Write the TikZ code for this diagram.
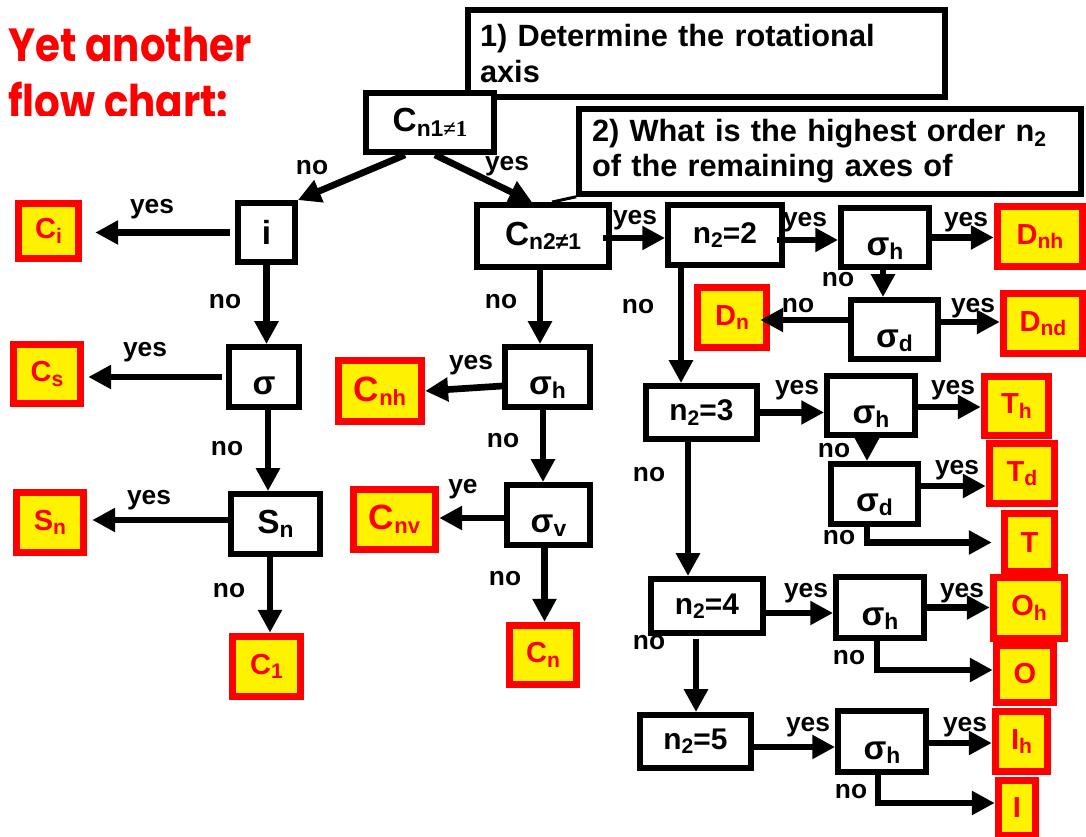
\documentclass[tikz,border=0pt]{standalone}
\usepackage{fontspec}
\setmainfont{Liberation Sans}
\newfontfamily\titlefont{Poppins}
\newfontfamily\eqserif{Liberation Serif}
\usetikzlibrary{arrows.meta,calc}
\newcommand{\lowidx}[2][12]{\raisebox{-2.5pt}{\fontsize{#1}{#1}\selectfont #2}}
\newcommand{\bigsym}[2][19]{{\fontsize{#1}{#1}\selectfont #2}}

\begin{document}
\begin{tikzpicture}[x=0.02cm, y=-0.02cm,
	qbox/.style={draw=black, line width=3.6pt, fill=white, inner sep=0pt, font=\fontsize{17}{17}\selectfont\bfseries},
	abox/.style={draw=red, line width=4pt, fill=yellow, text=red, inner sep=0pt, font=\fontsize{16.5}{16.5}\selectfont\bfseries},
	infobox/.style={draw=black, line width=3.4pt, fill=white, inner sep=0pt, align=left, font=\fontsize{17.5}{20}\selectfont\bfseries},
	dims/.style 2 args={minimum width={(#1-6.5)*0.02cm}, minimum height={(#2-6.5)*0.02cm}},
	lowtxt/.style={text height=23pt, text depth=3pt},
	lbl/.style={inner sep=0pt, font=\fontsize{15}{15}\selectfont\bfseries},
	flow/.style={line width=3.8pt, -{Triangle[length=13pt,width=13pt]}},
	ttl/.style={anchor=base west, inner sep=0pt, text=red, font=\titlefont\fontsize{23}{23}\selectfont\bfseries}]
	\useasboundingbox (0,0) rectangle (1086,837);
	% title
	\begin{scope}
		\clip (0,0) rectangle (300,116);
		\node[ttl] (ttlA) at (8,62) {\scalebox{1}[1.15]{Yet another}};
		\node[ttl] (ttlB) at (8,119) {\scalebox{1}[1.15]{flow chart:}};
	\end{scope}
	% questions
	\node[infobox, dims={483}{93}, text width=9.06cm] (stepA) at (706.5,53.5) {1) Determine the rotational\\axis};
	\node[infobox, dims={508}{91}, text width=9.52cm] (stepB) at (830,151.5) {2) What is the highest order n\lowidx{2}\\of the remaining axes of};
	% left branch
	\node[qbox, dims={134}{65}] (cnA) at (430,122.5) {\bigsym{C}\lowidx[13]{n1{\eqserif ≠1}}\hspace{0.5cm}};
	\node[qbox, dims={63}{65}] (iq) at (266.5,232.5) {\bigsym{i}\hspace{0.4cm}};
	\node[qbox, dims={76}{66}, lowtxt] (sg) at (264,377) {\bigsym{σ}\hspace{0.38cm}};
	\node[qbox, dims={95}{66}] (sn) at (275.5,524) {\bigsym{S}\lowidx[13]{n}\hspace{0.42cm}};
	\node[abox, dims={67}{62}] (ci) at (48.5,231) {C\lowidx{i}};
	\node[abox, dims={74}{66}] (cs) at (47,374) {C\lowidx{s}};
	\node[abox, dims={74}{67}] (snr) at (50,522.5) {S\lowidx{n}};
	\node[abox, dims={75}{67}] (c1) at (266.5,666.5) {C\lowidx{1}};
	% middle branch
	\node[qbox, dims={138}{68}] (cnB) at (543,236) {\bigsym{C}\lowidx[13]{n2≠1}\hspace{0.46cm}};
	\node[qbox, dims={91}{66}, lowtxt] (sgh) at (547.5,377) {\bigsym{σ}\lowidx[13]{h}\hspace{0.38cm}};
	\node[qbox, dims={89}{66}, lowtxt] (sgv) at (548.5,515) {\bigsym{σ}\lowidx[13]{v}\hspace{0.38cm}};
	\node[abox, dims={90}{67}] (cnh) at (380,391) {\bigsym[20]{C}\lowidx[12.5]{nh}};
	\node[abox, dims={89}{67}] (cnv) at (394.5,519.5) {\bigsym[20]{C}\lowidx[12.5]{nv}};
	\node[abox, dims={74}{66}] (cn) at (543,655) {C\lowidx{n}};
	% right branch
	\node[qbox, dims={120}{66}] (nt2) at (725,235) {n\lowidx{2}=2\hspace{0.4cm}};
	\node[qbox, dims={94}{65}, lowtxt] (hA) at (885,237.5) {\bigsym{σ}\lowidx[13]{h}\hspace{0.4cm}};
	\node[qbox, dims={93}{65}, lowtxt] (dA) at (894.5,329.5) {\bigsym{σ}\lowidx[13]{d}\hspace{0.4cm}};
	\node[qbox, dims={117}{59}] (nt3) at (701.5,412.5) {n\lowidx{2}=3\hspace{0.3cm}};
	\node[qbox, dims={94}{65}, lowtxt] (hB) at (871,405.5) {\bigsym{σ}\lowidx[13]{h}\hspace{0.4cm}};
	\node[qbox, dims={93}{66}, lowtxt] (dB) at (874.5,494) {\bigsym{σ}\lowidx[13]{d}\hspace{0.4cm}};
	\node[qbox, dims={118}{60}] (nt4) at (707,606) {n\lowidx{2}=4\hspace{0.3cm}};
	\node[qbox, dims={94}{67}, lowtxt] (hC) at (880,607.5) {\bigsym{σ}\lowidx[13]{h}\hspace{0.4cm}};
	\node[qbox, dims={117}{59}] (nt5) at (695.5,741.5) {n\lowidx{2}=5\hspace{0.3cm}};
	\node[qbox, dims={94}{67}, lowtxt] (hD) at (882,741.5) {\bigsym{σ}\lowidx[13]{h}\hspace{0.4cm}};
	\node[abox, dims={92}{67}] (dnh) at (1040,236.5) {D\lowidx{nh}};
	\node[abox, dims={76}{67}] (dn) at (732,317.5) {D\lowidx{n}};
	\node[abox, dims={86}{67}] (dnd) at (1043,323.5) {D\lowidx{nd}};
	\node[abox, dims={71}{66}] (th) at (1016.5,406) {T\lowidx{h}};
	\node[abox, dims={72}{67}] (td) at (1022,473.5) {T\lowidx{d}};
	\node[abox, dims={57}{65}] (tt) at (1029.5,542.5) {T};
	\node[abox, dims={78}{68}] (oh) at (1029,608) {O\lowidx{h}};
	\node[abox, dims={64}{64}] (oo) at (1025,674) {O};
	\node[abox, dims={59}{67}] (ih) at (1021.5,741.5) {I\lowidx{h}};
	\node[abox, dims={44}{62}] (ii) at (1017,808) {I};
	% connectors
	\draw[flow] ([xshift=-0.5cm]cnA.south) -- (iq.north east);
	\draw[flow] ([xshift=0.1cm]cnA.south) -- ([xshift=-0.22cm]cnB.north);
	\draw[flow, shorten <=0.1cm, shorten >=0.26cm] (iq.west) -- (iq.west -| ci.east);
	\draw[flow] (iq.south) -- (iq.south |- sg.north);
	\draw[flow, shorten <=0.08cm, shorten >=0.08cm] (sg.west) -- (sg.west -| cs.east);
	\draw[flow] ([xshift=0.08cm]sg.south) -- ([xshift=0.08cm]sg.south |- sn.north);
	\draw[flow, shorten >=0.1cm] ([yshift=0.08cm]sn.west) -- ([yshift=0.08cm]sn.west -| snr.east);
	\draw[flow] ([xshift=-0.11cm]sn.south) -- ([xshift=-0.11cm]sn.south |- c1.north);
	\draw[flow] ([xshift=-0.06cm]cnB.south) -- ([xshift=-0.06cm]cnB.south |- sgh.north);
	\draw[flow] ([yshift=-0.18cm]sgh.west) -- (cnh.east);
	\draw[flow] ([xshift=-0.09cm]sgh.south) -- ([xshift=-0.09cm]sgh.south |- sgv.north);
	\draw[flow] ([yshift=-0.06cm]sgv.west) -- ([yshift=-0.06cm]sgv.west -| cnv.east);
	\draw[flow] ([xshift=-0.08cm]sgv.south) -- ([xshift=-0.08cm]sgv.south |- cn.north);
	\draw[flow] ([xshift=-0.18cm,yshift=-0.04cm]cnB.east) -- ([yshift=-0.04cm]cnB.east -| nt2.west);
	\draw[flow] ([xshift=-0.16cm,yshift=-0.1cm]nt2.east) -- ([yshift=-0.1cm]nt2.east -| hA.west);
	\draw[flow] (hA.east) -- (hA.east -| dnh.west);
	\draw[flow] ([xshift=-0.04cm]hA.south) -- ([xshift=-0.04cm]hA.south |- dA.north);
	\draw[flow, shorten <=-0.1cm, shorten >=-0.2cm] ([yshift=0.19cm]dA.west) -- ([yshift=0.19cm]dA.west -| dn.east);
	\draw[flow] ([yshift=0.15cm]dA.east) -- ([yshift=0.15cm]dA.east -| dnd.west);
	\draw[flow] ([xshift=-0.88cm]nt2.south) -- ([xshift=-0.88cm]nt2.south |- nt3.north);
	\draw[flow] (nt3.east) -- (nt3.east -| hB.west);
	\draw[flow] ([yshift=-0.03cm]hB.east) -- ([yshift=-0.03cm]hB.east -| th.west);
	\draw[flow] ([xshift=-0.08cm]hB.south) -- ([xshift=-0.08cm]hB.south |- dB.north);
	\draw[flow] ([yshift=0.16cm]dB.east) -- ([yshift=0.16cm]dB.east -| td.west);
	\draw[flow, shorten >=0.18cm] ([xshift=-0.15cm]dB.south) |- (tt.west);
	\draw[flow] ([xshift=-0.27cm]nt3.south) -- ([xshift=-0.27cm]nt3.south |- nt4.north);
	\draw[flow] ([yshift=-0.14cm]nt4.east) -- ([yshift=-0.14cm]nt4.east -| hC.west);
	\draw[flow] (hC.east) -- (hC.east -| oh.west);
	\draw[flow] ([xshift=-0.06cm]hC.south) |- ([yshift=0.08cm]oo.west);
	\draw[flow, shorten <=0.06cm] ([xshift=-0.22cm]nt4.south) -- ([xshift=-0.22cm]nt4.south |- nt5.north);
	\draw[flow] ([yshift=-0.11cm]nt5.east) -- ([yshift=-0.11cm]nt5.east -| hD.west);
	\draw[flow] ([yshift=-0.03cm]hD.east) -- ([yshift=-0.03cm]hD.east -| ih.west);
	\draw[flow] ([xshift=-0.08cm]hD.south) |- ([yshift=0.1cm]ii.west);
	\draw[line width=1.7pt] (stepB.south west) -- ([xshift=0.18cm]cnB.north);
	% answers
	\node[lbl] (nA) at (312,168) {no};
	\node[lbl] (yA) at (507,166) {yes};
	\node[lbl] (yB) at (152,209) {yes};
	\node[lbl] (nB) at (225,302) {no};
	\node[lbl] (yC) at (145,352) {yes};
	\node[lbl] (nC) at (227,449) {no};
	\node[lbl] (yD) at (149,500) {yes};
	\node[lbl] (nD) at (229,591) {no};
	\node[lbl] (nE) at (501,302) {no};
	\node[lbl] (yE) at (471,365) {yes};
	\node[lbl] (nF) at (503,441) {no};
	\node[lbl] (yF) at (463,489) {ye};
	\node[lbl] (nG) at (505,579) {no};
	\node[lbl] (yG) at (635,220) {yes};
	\node[lbl] (yH) at (805,222) {yes};
	\node[lbl] (yI) at (966,222) {yes};
	\node[lbl] (nH) at (838,280) {no};
	\node[lbl] (nI) at (798,306) {no};
	\node[lbl] (yJ) at (973,308) {yes};
	\node[lbl] (nJ) at (638,307) {no};
	\node[lbl] (yK) at (797,390) {yes};
	\node[lbl] (yL) at (953,390) {yes};
	\node[lbl] (nK) at (834,451) {no};
	\node[lbl] (yM) at (957,470) {yes};
	\node[lbl] (nL) at (839,538) {no};
	\node[lbl] (nM) at (649,475) {no};
	\node[lbl] (yN) at (806,593) {yes};
	\node[lbl] (yO) at (962,593) {yes};
	\node[lbl] (nN) at (849,658) {no};
	\node[lbl] (nO) at (649,643) {no};
	\node[lbl] (yP) at (808,727) {yes};
	\node[lbl] (yQ) at (965,727) {yes};
	\node[lbl] (nP) at (851,792) {no};
\end{tikzpicture}
\end{document}
